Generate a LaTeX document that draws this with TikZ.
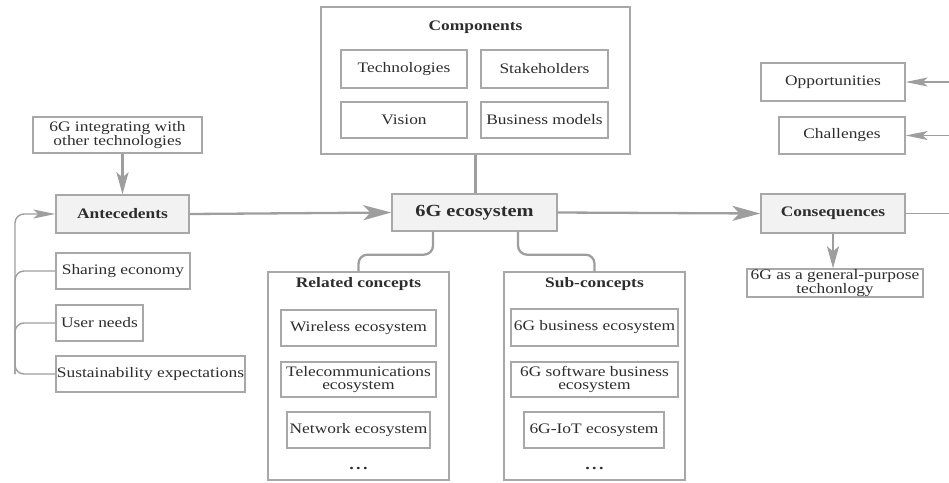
\documentclass[tikz,border=0pt]{standalone}
\usepackage{fontspec}
\setmainfont{Liberation Serif}[FakeStretch=1.2]
\usetikzlibrary{arrows.meta}

\definecolor{linegray}{RGB}{158,158,158}
\definecolor{boxgray}{RGB}{168,168,168}
\definecolor{keyfill}{RGB}{242,242,242}
\definecolor{txt}{RGB}{45,45,45}

\begin{document}
\begin{tikzpicture}[x=1pt, y=-1pt,
  box/.style={draw=boxgray, line width=1.3pt, text=txt, inner sep=0pt, align=center,
    font=\fontsize{14.5}{13.8}\selectfont},
  keybox/.style={box, fill=keyfill, font=\fontsize{14.5}{14}\selectfont\bfseries},
  frame/.style={draw=boxgray, line width=1.3pt, inner sep=0pt},
  title/.style={text=txt, inner sep=0pt, font=\fontsize{14.5}{14}\selectfont\bfseries},
  dots/.style={text=txt, inner sep=0pt, font=\fontsize{15}{15}\selectfont\bfseries},
  link/.style={draw=linegray, line width=2.3pt},
  thinlink/.style={draw=linegray, line width=1.4pt},
  bigtip/.style={-{Stealth[length=28pt, width=15pt, inset=7pt]}},
  midtip/.style={-{Stealth[length=22pt, width=12pt, inset=5pt]}},
  smalltip/.style={-{Stealth[length=22pt, width=9pt, inset=5pt]}},
]
\useasboundingbox (0,0) rectangle (949,482);

% ---- antecedents column ----
\node[box, minimum width=169pt, minimum height=36pt] (integ) at (117.5,135)
  {6G integrating with\\other technologies};
\node[keybox, minimum width=133pt, minimum height=38pt] (ante) at (122.5,214) {Antecedents};
\node[box, minimum width=134pt, minimum height=36pt] (share) at (123,271) {Sharing economy};
\node[box, minimum width=87pt, minimum height=36pt] (user) at (99.5,323) {User needs};
\node[box, minimum width=189pt, minimum height=36pt] (sust) at (150.5,374) {Sustainability expectations};
\coordinate (railx) at (15,0);

% ---- components ----
\node[frame, minimum width=309pt, minimum height=147pt] (comp) at (475.5,80.5) {};
\node[title] (comptitle) at (475.5,27) {Components};
\node[box, minimum width=126pt, minimum height=38pt] (tech) at (404,69) {Technologies};
\node[box, minimum width=127pt, minimum height=38pt] (stake) at (544.5,69) {Stakeholders};
\node[box, minimum width=126pt, minimum height=36pt] (vision) at (404,120) {Vision};
\node[box, minimum width=127pt, minimum height=36pt] (busmod) at (544.5,120) {Business models};

% ---- centre ----
\node[keybox, minimum width=165pt, minimum height=37pt, font=\fontsize{17}{17}\selectfont\bfseries]
  (eco) at (474.5,212.5) {6G ecosystem};

% ---- related concepts ----
\node[frame, minimum width=181pt, minimum height=208pt] (related) at (358.5,376) {};
\node[title] (reltitle) at (358.5,284) {Related concepts};
\node[box, minimum width=155pt, minimum height=36pt] (wireless) at (358.5,328) {Wireless ecosystem};
\node[box, minimum width=155pt, minimum height=35pt] (telecom) at (358.5,379.5)
  {Telecommunications\\ecosystem};
\node[box, minimum width=143pt, minimum height=36pt] (network) at (358.5,430) {Network ecosystem};
\node[dots, anchor=base] (reldots) at (358.5,469) {.\kern2.5pt.\kern2.5pt.};

% ---- sub-concepts ----
\node[frame, minimum width=181pt, minimum height=208pt] (sub) at (594.5,376) {};
\node[title] (subtitle) at (594.5,284) {Sub-concepts};
\node[box, minimum width=167pt, minimum height=37pt] (biz) at (594.5,327.5) {6G business ecosystem};
\node[box, minimum width=167pt, minimum height=35pt] (soft) at (594.5,379.5)
  {6G software business\\ecosystem};
\node[box, minimum width=140pt, minimum height=36pt] (iot) at (594,430) {6G-IoT ecosystem};
\node[dots, anchor=base] (subdots) at (594.5,469) {.\kern2.5pt.\kern2.5pt.};

% ---- consequences column ----
\node[box, minimum width=144pt, minimum height=38pt] (opp) at (833,82) {Opportunities};
\node[box, minimum width=126pt, minimum height=37pt] (chal) at (842,135.5) {Challenges};
\node[keybox, minimum width=144pt, minimum height=39pt] (cons) at (833,213.5) {Consequences};
\node[box, minimum width=176pt, minimum height=28pt] (gpt) at (835,283)
  {6G as a general-purpose\\techonlogy};
\coordinate (rightedge) at (949,0);

% ---- connectors ----
\draw[link, midtip] (ante.north |- integ.south) -- (ante.north);
\draw[link, bigtip] (ante.east) -- (eco.west);
\draw[link, bigtip] (eco.east) -- (cons.west);
\draw[link] (comp.south) -- (comp.south |- eco.north);
\draw[link, rounded corners=9pt] ([xshift=-41.5pt]eco.south) -- ++(0,23) -| (related.north);
\draw[link, rounded corners=9pt] ([xshift=43.5pt]eco.south) -- ++(0,23) -| (sub.north);
\draw[link, midtip] (cons.south) -- (cons.south |- gpt.north);

\draw[thinlink] (cons.east) -- (cons.east -| rightedge);
\draw[thinlink, smalltip] (opp.east -| rightedge) -- (opp.east);
\draw[thinlink, smalltip] (chal.east -| rightedge) -- (chal.east);

% bracket gathering the antecedent factors
\draw[thinlink, rounded corners=9pt, smalltip] (sust.west) -| (ante.west -| railx) -- (ante.west);
\draw[thinlink, rounded corners=9pt] (share.west) -| (sust.west -| railx);
\draw[thinlink, rounded corners=9pt] (user.west) -| (sust.west -| railx);
\end{tikzpicture}
\end{document}
